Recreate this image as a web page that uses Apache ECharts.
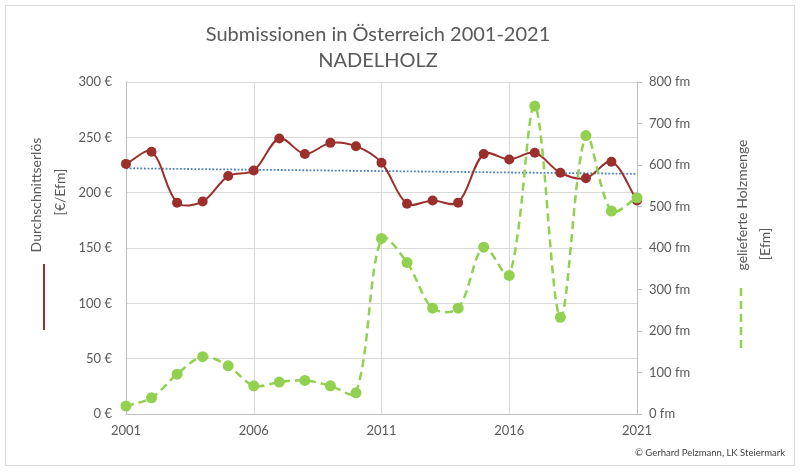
<!DOCTYPE html>
<html>
<head>
<meta charset="utf-8">
<script src="https://cdn.jsdelivr.net/npm/echarts@6/dist/echarts.min.js"></script>
<style>
html,body{margin:0;padding:0;background:#ffffff;}
#c{width:800px;height:472px;}
</style>
</head>
<body>
<div id="c"></div>
<script>
// ---- data ----
const years = ['2001','2002','2003','2004','2005','2006','2007','2008','2009','2010',
               '2011','2012','2013','2014','2015','2016','2017','2018','2019','2020','2021'];
// Durchschnittserlös [€/Efm] (left axis)
const priceValues = [226, 237, 191, 192, 215, 220, 249, 235, 245, 242,
                     227, 190, 193, 191, 235, 230, 236, 218, 213, 228, 193];
// gelieferte Holzmenge [Efm] (right axis)
const volumeValues = [19, 39, 96, 138, 116, 68, 77, 81, 68, 51,
                      423, 365, 255, 255, 402, 334, 742, 233, 671, 489, 521];
// linear trend of the price, end points
const trendYears = ['2001', '2021'];
const trendValues = [222, 217];

const titleLines = ['Submissionen in Österreich 2001-2021', 'NADELHOLZ'];
const leftAxisTitle = ['Durchschnittserlös', '[€/Efm]'];
const rightAxisTitle = ['gelieferte Holzmenge', '[Efm]'];
const creditText = '© Gerhard Pelzmann, LK Steiermark';

// ---- styles ----
const FONT = 'Lato';
const TXT = '#595959';
const RED = '#9b2f2b';
const GREEN = '#92d050';
const BLUE = '#4a7fbf';
const GRID = '#d9d9d9';
const AXIS = '#bfbfbf';

// smooth spreadsheet-style curve through the points, positioned by the axes via api.coord
function smoothCurve(values, api) {
  const pts = values.map((v, i) => api.coord([i, v]));
  const n = pts.length;
  const dist = (a, b) => Math.hypot(b[0] - a[0], b[1] - a[1]);
  const k = 1 / 3;
  let d = 'M' + pts[0][0] + ' ' + pts[0][1];
  for (let i = 0; i < n - 1; i++) {
    const p0 = pts[Math.max(i - 1, 0)], p1 = pts[i], p2 = pts[i + 1], p3 = pts[Math.min(i + 2, n - 1)];
    const d01 = dist(p0, p1), d12 = dist(p1, p2), d23 = dist(p2, p3);
    const f1 = d01 + d12 > 0 ? k * d12 / (d01 + d12) : 0;
    const f2 = d12 + d23 > 0 ? k * d12 / (d12 + d23) : 0;
    const c1x = p1[0] + (p2[0] - p0[0]) * f1, c1y = p1[1] + (p2[1] - p0[1]) * f1;
    const c2x = p2[0] - (p3[0] - p1[0]) * f2, c2y = p2[1] - (p3[1] - p1[1]) * f2;
    d += ' C' + c1x + ' ' + c1y + ' ' + c2x + ' ' + c2y + ' ' + p2[0] + ' ' + p2[1];
  }
  return d;
}

function curveSeries(name, values, yAxisIndex, lineStyle, z) {
  return {
    name: name,
    type: 'custom',
    coordinateSystem: 'cartesian2d',
    yAxisIndex: yAxisIndex,
    data: [[0, values[0]]],
    encode: {x: 0, y: 1},
    silent: true,
    z: z,
    renderItem: function (params, api) {
      return {
        type: 'path',
        shape: {pathData: smoothCurve(values, api)},
        style: Object.assign({fill: 'none'}, lineStyle)
      };
    }
  };
}

const chart = echarts.init(document.getElementById('c'), null, {renderer: 'canvas'});

const option = {
  animation: false,
  backgroundColor: '#ffffff',
  textStyle: {fontFamily: FONT},
  grid: {left: 126, right: 163, top: 82, bottom: 58, containLabel: false, outerBoundsMode: 'none'},
  xAxis: {
    type: 'category',
    data: years,
    boundaryGap: false,
    axisLine: {show: true, lineStyle: {color: AXIS, width: 1}},
    axisTick: {show: false},
    axisLabel: {interval: 4, color: TXT, fontSize: 13, fontFamily: FONT, margin: 10},
    splitLine: {show: true, interval: 4, lineStyle: {color: GRID, width: 1}}
  },
  yAxis: [
    {
      type: 'value', min: 0, max: 300, interval: 50,
      axisLine: {show: true, lineStyle: {color: AXIS, width: 1}},
      axisTick: {show: false},
      axisLabel: {formatter: '{value} €', color: TXT, fontSize: 13, fontFamily: FONT, margin: 14},
      splitLine: {show: true, lineStyle: {color: GRID, width: 1}}
    },
    {
      type: 'value', min: 0, max: 800, interval: 100, position: 'right',
      axisLine: {show: true, lineStyle: {color: AXIS, width: 1}},
      axisTick: {show: true, inside: false, length: 5, lineStyle: {color: AXIS}},
      axisLabel: {formatter: '{value} fm', color: TXT, fontSize: 13, fontFamily: FONT, margin: 12},
      splitLine: {show: false}
    }
  ],
  series: [
    {
      name: 'Trend',
      type: 'line',
      yAxisIndex: 0,
      data: trendYears.map((y, i) => [y, trendValues[i]]),
      symbol: 'none',
      lineStyle: {color: BLUE, width: 1.8, type: [1.8, 1.8]},
      z: 1
    },
    curveSeries('Durchschnittserlös curve', priceValues, 0, {stroke: RED, lineWidth: 2}, 2),
    {
      name: 'Durchschnittserlös [€/Efm]',
      type: 'line',
      yAxisIndex: 0,
      data: priceValues,
      symbol: 'circle',
      symbolSize: 10,
      itemStyle: {color: RED},
      lineStyle: {width: 0, opacity: 0},
      z: 3
    },
    curveSeries('Holzmenge curve', volumeValues, 1, {stroke: GREEN, lineWidth: 2.5, lineDash: [8, 5]}, 4),
    {
      name: 'gelieferte Holzmenge [Efm]',
      type: 'line',
      yAxisIndex: 1,
      data: volumeValues,
      symbol: 'circle',
      symbolSize: 11,
      itemStyle: {color: GREEN},
      lineStyle: {width: 0, opacity: 0},
      z: 5
    }
  ],
  graphic: [
    {type: 'rect', silent: true, z: -10, shape: {x: 5.5, y: 5.5, width: 789, height: 460},
     style: {fill: 'none', stroke: '#d9d9d9', lineWidth: 1}},
    {type: 'text', x: 378, y: 35, silent: true,
     style: {text: titleLines[0], fill: TXT, font: '20px ' + FONT, align: 'center', verticalAlign: 'middle'}},
    {type: 'text', x: 378, y: 61, silent: true,
     style: {text: titleLines[1], fill: TXT, font: '20px ' + FONT, align: 'center', verticalAlign: 'middle'}},
    {type: 'text', x: 36, y: 195, rotation: Math.PI / 2, silent: true,
     style: {text: leftAxisTitle[0], fill: TXT, font: '14px ' + FONT, align: 'center', verticalAlign: 'middle'}},
    {type: 'text', x: 60, y: 192, rotation: Math.PI / 2, silent: true,
     style: {text: leftAxisTitle[1], fill: TXT, font: '14px ' + FONT, align: 'center', verticalAlign: 'middle'}},
    {type: 'line', silent: true, shape: {x1: 44, y1: 264, x2: 44, y2: 330},
     style: {stroke: RED, lineWidth: 2}},
    {type: 'text', x: 742, y: 205, rotation: Math.PI / 2, silent: true,
     style: {text: rightAxisTitle[0], fill: TXT, font: '14px ' + FONT, align: 'center', verticalAlign: 'middle'}},
    {type: 'text', x: 765, y: 244, rotation: Math.PI / 2, silent: true,
     style: {text: rightAxisTitle[1], fill: TXT, font: '14px ' + FONT, align: 'center', verticalAlign: 'middle'}},
    {type: 'line', silent: true, shape: {x1: 741, y1: 288, x2: 741, y2: 349},
     style: {stroke: GREEN, lineWidth: 2.5, lineDash: [8, 5]}},
    {type: 'text', x: 785, y: 453, silent: true,
     style: {text: creditText, fill: '#404040', font: '9.5px ' + FONT, align: 'right', verticalAlign: 'middle'}}
  ]
};
chart.setOption(option);
</script>
</body>
</html>
